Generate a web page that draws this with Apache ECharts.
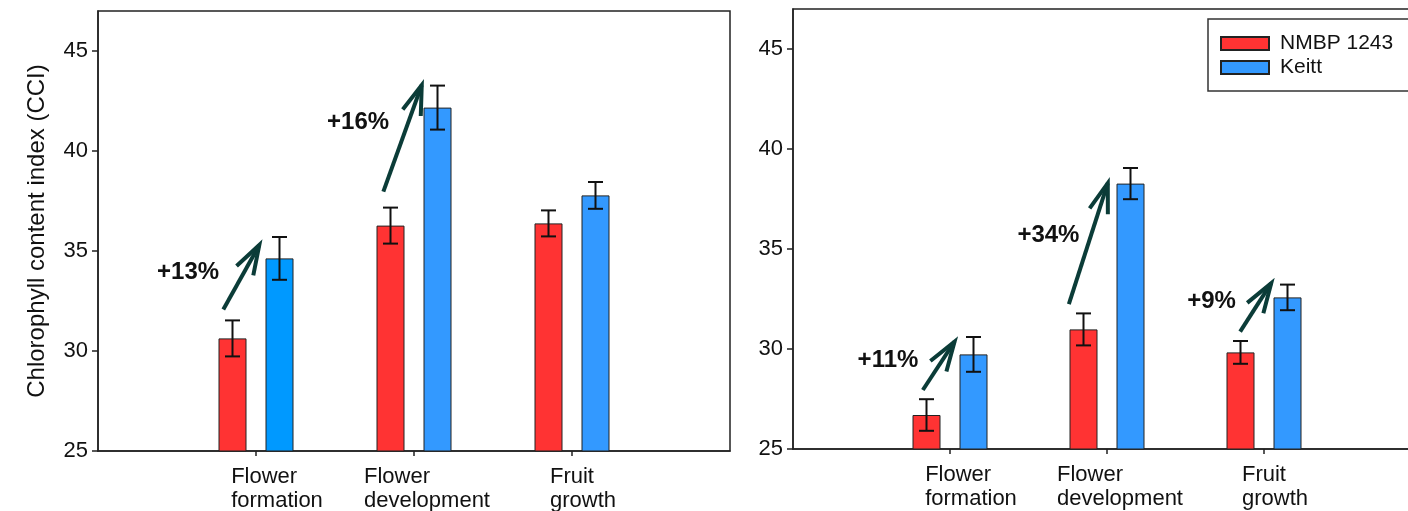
<!DOCTYPE html>
<html><head><meta charset="utf-8">
<script src="https://cdn.jsdelivr.net/npm/echarts@6/dist/echarts.min.js"></script>
<style>html,body{margin:0;padding:0;background:#fff}#c{width:1408px;height:511px}</style>
</head><body><div id="c"></div>
<script>
// ---------- data ----------
const categories = ['', 'Flower formation', 'Flower development', 'Fruit growth', ''];
const seriesNames = ['NMBP 1243', 'Keitt'];
const yTicks = [25, 30, 35, 40, 45];
const yTitle = 'Chlorophyll content index (CCI)';

// left panel
const leftNMBP = [30.63, 36.27, 36.38];
const leftNMBPErr = [0.9, 0.9, 0.65];
const leftKeitt = [34.63, 42.17, 37.78];
const leftKeittErr = [1.07, 1.1, 0.67];
const leftChange = ['+13%', '+16%'];

// right panel
const rightNMBP = [26.7, 30.98, 29.83];
const rightNMBPErr = [0.79, 0.8, 0.57];
const rightKeitt = [29.73, 38.27, 32.58];
const rightKeittErr = [0.87, 0.78, 0.64];
const rightChange = ['+11%', '+34%', '+9%'];

// ---------- annotation layout (data coordinates: x = category position, y = CCI) ----------
const leftArrowPos = [[0.793, 32.08, 1.021, 35.3], [1.806, 37.97, 2.049, 43.3]];
const leftLabelPos = [[0.570, 33.92], [1.646, 41.42]];
const rightArrowPos = [[0.827, 27.95, 1.029, 30.37], [1.757, 32.24, 2.005, 38.29], [2.848, 30.87, 3.046, 33.29]];
const rightLabelPos = [[0.605, 29.45], [1.627, 35.67], [2.666, 32.37]];

// ---------- style ----------
const FONT = '"Liberation Sans", Arial, sans-serif';
const RED = '#ff3333', BLUE = '#3399ff', BLUE_ALT = '#0099ff';
const INK = '#111', AXIS = '#222', ARROW = '#0b3c38';
const BAR_W = 28, BAR_GAP_PX = 19;
const OFFSET = (BAR_W + BAR_GAP_PX) / 2;

const chart = echarts.init(document.getElementById('c'), null, {renderer: 'canvas'});

function labelFormatter(value, index) {
  if (!value) return '';
  const parts = value.split(' ');
  return '{f' + index + '|' + parts[0] + '}\n{f' + index + '|' + parts.slice(1).join(' ') + '}';
}
const richBase = {align: 'left', fontSize: 22, fontFamily: FONT, color: INK, lineHeight: 24};
const rich = {
  f1: Object.assign({}, richBase, {padding: [0, 0, 0, 42]}),
  f2: Object.assign({}, richBase, {padding: [0, 0, 0, 26]}),
  f3: Object.assign({}, richBase, {padding: [0, 0, 0, 22]})
};

function xAxes(g) {
  return [{
    type: 'category', gridIndex: g, data: categories, boundaryGap: false,
    axisLine: {lineStyle: {color: AXIS, width: 1.5}},
    axisTick: {show: true, length: 5, interval: (i) => i >= 1 && i <= 3, lineStyle: {color: AXIS, width: 1.5}},
    axisLabel: {interval: 0, margin: 14, formatter: labelFormatter, rich: rich, fontSize: 22, fontFamily: FONT, color: INK},
    splitLine: {show: false}
  }, {
    type: 'value', gridIndex: g, min: 0, max: 4, show: false
  }];
}
function yAxis(g, withName) {
  const ax = {
    type: 'value', gridIndex: g, min: 25, max: 47, interval: 5,
    axisLine: {show: true, lineStyle: {color: AXIS, width: 1.5}},
    axisTick: {show: true, length: 6, customValues: yTicks, lineStyle: {color: AXIS, width: 1.5}},
    axisLabel: {customValues: yTicks, fontSize: 22, fontFamily: FONT, color: INK, margin: 10},
    splitLine: {show: false}
  };
  if (withName) {
    ax.name = yTitle;
    ax.nameLocation = 'middle';
    ax.nameGap = 49;
    ax.nameTextStyle = {fontSize: 24, fontFamily: FONT, color: INK};
  }
  return ax;
}

function panelSeries(g, nmbp, nmbpErr, keitt, keittErr, arrows, labelPos, labelTexts, firstBlueColor) {
  const xi = g * 2, xv = g * 2 + 1;
  const pad = (arr) => ['-'].concat(arr).concat(['-']);
  const keittData = pad(keitt).map((v, i) => (i === 1 && firstBlueColor) ? {value: v, itemStyle: {color: firstBlueColor}} : v);
  const errStyle = {stroke: INK, lineWidth: 2};
  const errSeries = (vals, errs, off) => ({
    type: 'custom', xAxisIndex: xv, yAxisIndex: g, z: 5, silent: true,
    encode: {x: 0, y: 1},
    data: vals.map((v, i) => [i + 1, v, errs[i]]),
    renderItem: function (params, api) {
      const idx = api.value(0), v = api.value(1), e = api.value(2);
      const top = api.coord([idx, v + e]), bot = api.coord([idx, v - e]);
      const x = top[0] + off;
      return {type: 'group', children: [
        {type: 'line', shape: {x1: x, y1: top[1], x2: x, y2: bot[1]}, style: errStyle},
        {type: 'line', shape: {x1: x - 7.5, y1: top[1], x2: x + 7.5, y2: top[1]}, style: errStyle},
        {type: 'line', shape: {x1: x - 7.5, y1: bot[1], x2: x + 7.5, y2: bot[1]}, style: errStyle}
      ]};
    }
  });
  return [
    {name: seriesNames[0], type: 'bar', xAxisIndex: xi, yAxisIndex: g, barWidth: BAR_W, barGap: (BAR_GAP_PX / BAR_W * 100) + '%',
     itemStyle: {color: RED, borderColor: AXIS, borderWidth: 1}, data: pad(nmbp)},
    {name: seriesNames[1], type: 'bar', xAxisIndex: xi, yAxisIndex: g, barWidth: BAR_W,
     itemStyle: {color: BLUE, borderColor: AXIS, borderWidth: 1}, data: keittData},
    errSeries(nmbp, nmbpErr, -OFFSET),
    errSeries(keitt, keittErr, OFFSET),
    {
      type: 'custom', xAxisIndex: xv, yAxisIndex: g, z: 6, silent: true,
      encode: {x: [0, 2], y: [1, 3]},
      data: arrows,
      renderItem: function (params, api) {
        const p1 = api.coord([api.value(0), api.value(1)]);
        const p2 = api.coord([api.value(2), api.value(3)]);
        const ang = Math.atan2(p1[1] - p2[1], p1[0] - p2[0]);
        const L = 31, a = 18 * Math.PI / 180;
        const h1 = [p2[0] + L * Math.cos(ang + a), p2[1] + L * Math.sin(ang + a)];
        const h2 = [p2[0] + L * Math.cos(ang - a), p2[1] + L * Math.sin(ang - a)];
        const st = {stroke: ARROW, lineWidth: 4, fill: null, lineJoin: 'miter', lineCap: 'butt'};
        return {type: 'group', children: [
          {type: 'line', shape: {x1: p1[0], y1: p1[1], x2: p2[0], y2: p2[1]}, style: st},
          {type: 'polyline', shape: {points: [h1, p2, h2]}, style: st}
        ]};
      }
    },
    {
      type: 'custom', xAxisIndex: xv, yAxisIndex: g, z: 7, silent: true,
      encode: {x: 0, y: 1},
      data: labelPos,
      renderItem: function (params, api) {
        const p = api.coord([api.value(0), api.value(1)]);
        return {type: 'text', x: p[0], y: p[1], style: {
          text: labelTexts[params.dataIndex], font: 'bold 24px ' + FONT, fill: INK,
          align: 'center', verticalAlign: 'middle'}};
      }
    }
  ];
}

const option = {
  animation: false,
  backgroundColor: '#fff',
  grid: [
    {left: 98, width: 632, top: 11, bottom: 60, show: true, borderColor: AXIS, borderWidth: 1.5, containLabel: false, outerBoundsMode: 'none'},
    {left: 793, width: 628, top: 9, bottom: 62, show: true, borderColor: AXIS, borderWidth: 1.5, containLabel: false, outerBoundsMode: 'none'}
  ],
  legend: {
    data: seriesNames, orient: 'vertical', left: 1208, top: 19,
    itemWidth: 48, itemHeight: 13, itemGap: 3, icon: 'rect',
    padding: [14, 40, 13, 12], borderColor: '#333', borderWidth: 1.5, backgroundColor: '#fff',
    textStyle: {fontSize: 21, fontFamily: FONT, color: INK, padding: [0, 0, 0, 6]}
  },
  xAxis: xAxes(0).concat(xAxes(1)),
  yAxis: [yAxis(0, true), yAxis(1, false)],
  series: panelSeries(0, leftNMBP, leftNMBPErr, leftKeitt, leftKeittErr, leftArrowPos, leftLabelPos, leftChange, BLUE_ALT)
    .concat(panelSeries(1, rightNMBP, rightNMBPErr, rightKeitt, rightKeittErr, rightArrowPos, rightLabelPos, rightChange, null))
};
chart.setOption(option);
</script></body></html>
